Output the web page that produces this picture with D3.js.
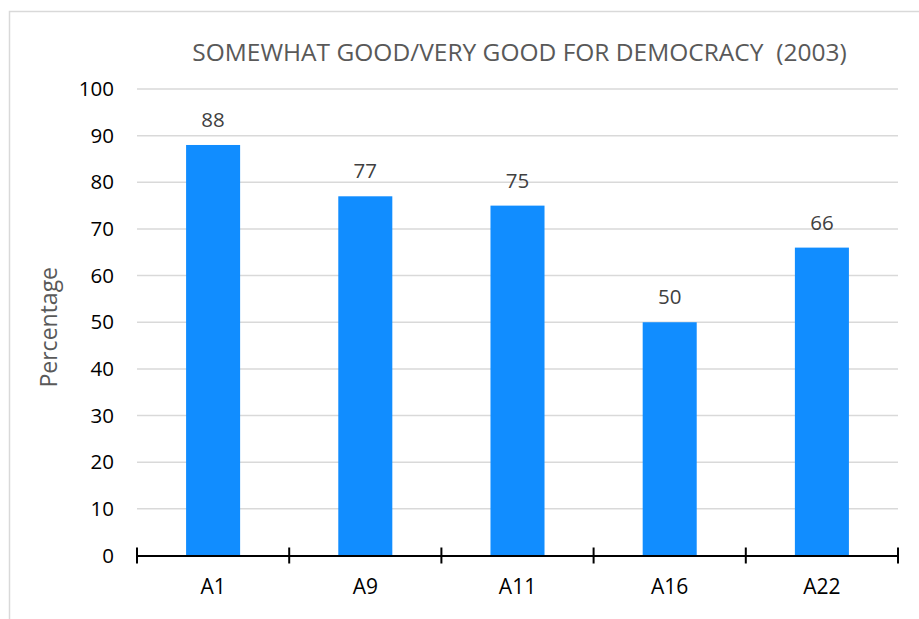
<!DOCTYPE html>
<html>
<head>
<meta charset="utf-8">
<script src="https://cdn.jsdelivr.net/npm/d3@7"></script>
<style>
  html, body { margin: 0; padding: 0; background: #fff; }
  svg { display: block; }
  text { font-family: "Open Sans", "Noto Sans", sans-serif; }
</style>
</head>
<body>
<svg id="chart" width="919" height="619"></svg>
<script>
// Share rating each region as somewhat/very good for democracy
const categories = ["A1", "A9", "A11", "A16", "A22"];
const values = [88, 77, 75, 50, 66];
const yTicks = [0, 10, 20, 30, 40, 50, 60, 70, 80, 90, 100];
const titleText = "SOMEWHAT GOOD/VERY GOOD FOR DEMOCRACY  (2003)";
const yAxisTitle = "Percentage";

const svg = d3.select("#chart");
const W = 919, H = 619;
const margin = { left: 137, right: 21, top: 89, bottom: 63 };

// chart frame
svg.append("rect")
  .attr("x", 9.5).attr("y", 11.5)
  .attr("width", W + 20).attr("height", H + 20)
  .attr("fill", "#fff").attr("stroke", "#d9d9d9").attr("stroke-width", 1.5);

const x = d3.scaleBand()
  .domain(categories)
  .range([margin.left, W - margin.right])
  .paddingInner(0.645).paddingOuter(0.3225);

const xTicks = d3.scaleBand().domain(categories).range([margin.left, W - margin.right]);

const y = d3.scaleLinear().domain([0, 100]).range([H - margin.bottom - 0.5, margin.top]);

// gridlines
svg.append("g")
  .selectAll("line")
  .data(yTicks.filter(d => d > 0))
  .join("line")
  .attr("x1", margin.left).attr("x2", W - margin.right)
  .attr("y1", d => y(d)).attr("y2", d => y(d))
  .attr("stroke", "#d9d9d9").attr("stroke-width", 1.5);

// y tick labels
const yAxis = d3.axisLeft(y).tickValues(yTicks).tickSize(0).tickPadding(23);
const gy = svg.append("g").attr("transform", `translate(${margin.left},0)`).call(yAxis);
gy.select(".domain").remove();
gy.selectAll("text")
  .attr("font-family", "'Open Sans', sans-serif")
  .attr("font-size", 20.5).attr("fill", "#000");

// bars
svg.append("g")
  .selectAll("rect")
  .data(categories.map((c, i) => ({ c, v: values[i] })))
  .join("rect")
  .attr("x", d => x(d.c))
  .attr("width", x.bandwidth())
  .attr("y", d => y(d.v))
  .attr("height", d => y(0) - y(d.v))
  .attr("fill", "#118dff");

// value labels
svg.append("g")
  .selectAll("text")
  .data(categories.map((c, i) => ({ c, v: values[i] })))
  .join("text")
  .attr("x", d => x(d.c) + x.bandwidth() / 2)
  .attr("y", d => y(d.v) - 18)
  .attr("text-anchor", "middle")
  .attr("font-size", 20.5).attr("fill", "#404040")
  .text(d => d.v);

// x axis with ticks crossing the baseline
const xAxis = d3.axisBottom(xTicks).tickSize(0).tickPadding(24);
const gx = svg.append("g").attr("transform", `translate(0,${y(0)})`).call(xAxis);
gx.select(".domain").attr("stroke", "#000").attr("stroke-width", 2);
gx.selectAll(".tick line").remove();
gx.selectAll("text")
  .attr("font-family", "'Open Sans', sans-serif")
  .attr("font-size", 21).attr("fill", "#000");
const bounds = categories.map(c => xTicks(c)).concat([W - margin.right]);
gx.append("g").selectAll("line")
  .data(bounds)
  .join("line")
  .attr("x1", d => d).attr("x2", d => d)
  .attr("y1", -8).attr("y2", 8)
  .attr("stroke", "#000").attr("stroke-width", 2);

// title (double space kept)
svg.append("text")
  .attr("x", (margin.left + W - margin.right) / 2 + 2)
  .attr("y", 61)
  .attr("text-anchor", "middle")
  .attr("font-size", 24.5).attr("fill", "#595959")
  .style("white-space", "pre")
  .text(titleText);

// y axis title
svg.append("text")
  .attr("transform", `translate(57,${(y(0) + y(100)) / 2 + 5}) rotate(-90)`)
  .attr("text-anchor", "middle")
  .attr("font-size", 23).attr("fill", "#595959")
  .text(yAxisTitle);
</script>
</body>
</html>
